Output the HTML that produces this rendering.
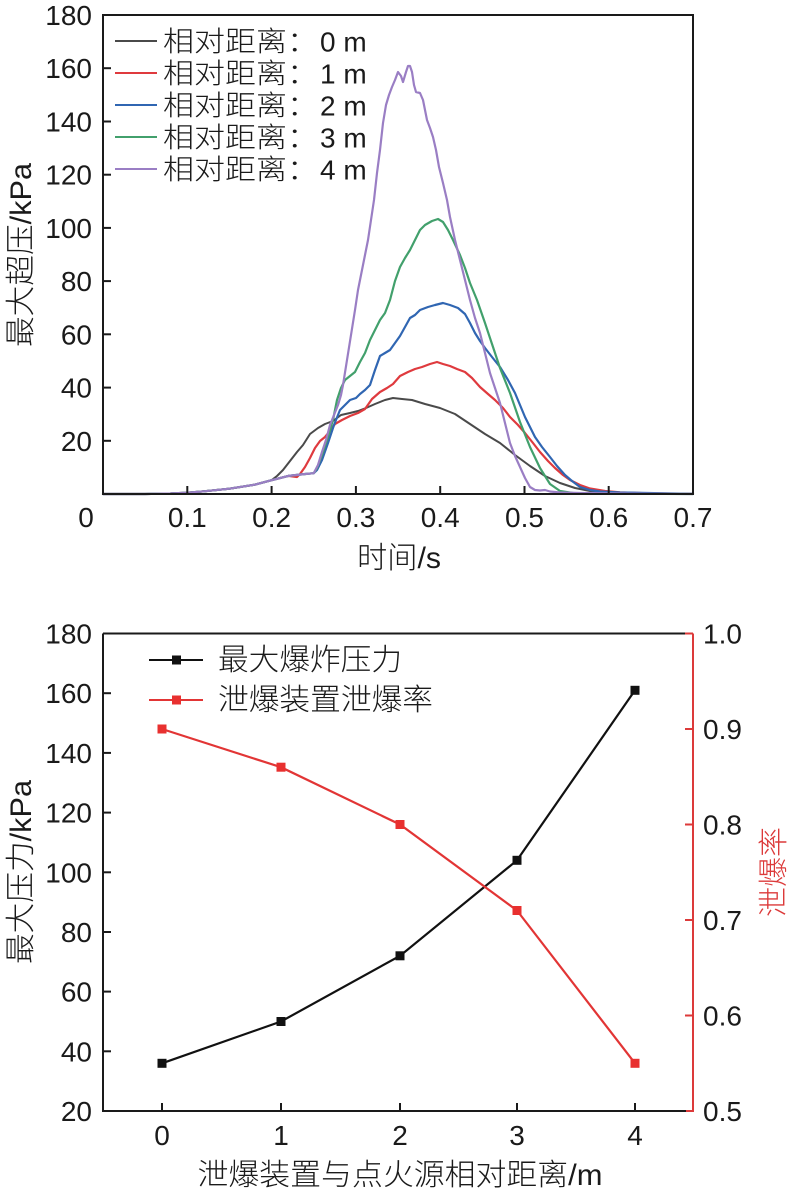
<!DOCTYPE html>
<html>
<head>
<meta charset="utf-8">
<style>
html,body{margin:0;padding:0;background:#fff;}
svg{display:block;}
text{font-family:"Liberation Sans","Noto Sans CJK SC",sans-serif;fill:#1a1a1a;}
.tk{font-size:28px;}
.cj{font-weight:300;}
</style>
</head>
<body>
<svg width="793" height="1196" viewBox="0 0 793 1196" xmlns="http://www.w3.org/2000/svg">
<rect width="793" height="1196" fill="#fff"/>

<!-- ================= TOP CHART ================= -->
<g fill="none" stroke-linejoin="round" stroke-linecap="round" stroke-width="2">
<polyline stroke="#4a4a4a" points="103,494 145,494 170.4,493.5 187.3,492.7 204.1,491.3 229.4,488.7 254.7,484.7 271.6,480.2 277,476 283,470 290,461 297,452 303,445 310,434 318,428 325,424 333,421 341,415 350,413 358,411 366,408 375,404 385,400 393,398 402,399 412,400 425,404 440,408 455,414 470,424 485,434 500,443 515,455 530,466 545,476 560,483 575,488 590,491 609,492.5 640,493.5 693,494"/>
<polyline stroke="#df3a3e" stroke-width="2.2" points="103,494 145,494 170.4,493.5 187.3,492.7 204.1,491.3 229.4,488.7 254.7,484.7 271.6,480.2 288.4,475.9 297,477 300,474 305,467 310,458 315,448 320,441 325,437 330,431 335,424 342,420 350,416 358,413 365,409 372,399 380,392 387,388 393,384 400,376 408,372 415,369 422,367 430,364 437,362 443,364 450,366 457,369 465,372 472,378 480,387 488,394 495,400 503,408 510,417 518,425 525,433 533,443 540,452 548,461 555,468 563,475 570,480 580,485 590,488.5 605,491 620,492.3 650,493.3 693,493.8"/>
<polyline stroke="#3066b2" stroke-width="2.2" points="103,494 145,494 170.4,493.5 187.3,492.7 204.1,491.3 229.4,488.7 254.7,484.7 271.6,480.2 288.4,475.9 305.3,474 313.7,473.2 317,470 322,460 328,443 334,425 340,410 345,405 350,400 356,398 360,394 365,390 370,385 375,370 380,356 385,353 390,350 395,343 400,336 405,327 410,318 415,315 420,310 428,307 435,305 443,303 450,305 458,308 465,314 470,323 475,333 480,341 485,348 492,357 500,367 508,380 515,393 520,405 525,417 530,427 535,437 542,447 550,457 557,466 565,475 572,481 580,487 590,490 600,491.5 620,492.5 693,493.8"/>
<polyline stroke="#42a06c" stroke-width="2.2" points="103,494 145,494 170.4,493.5 187.3,492.7 204.1,491.3 229.4,488.7 254.7,484.7 271.6,480.2 288.4,475.9 305.3,474 313.7,473.2 317,468 322,455 328,437 333,420 337,400 341,388 345,380 350,376 355,372 360,362 365,353 370,340 375,330 380,320 385,313 390,300 395,281 400,267 405,258 410,250 415,240 420,230 425,225 432,221 438,219 443,222 448,230 453,240 460,255 465,268 470,283 477,300 485,323 492,344 500,368 510,393 520,422 530,447 540,468 550,484 560,491 575,493.3 600,493.7 693,494"/>
<polyline stroke="#9a7ec4" stroke-width="2.2" points="103,494 145,494 170.4,493.5 187.3,492.7 204.1,491.3 229.4,488.7 254.7,484.7 271.6,480.2 288.4,475.9 305.3,474 313.7,473.2 318,465 322,452 326,440 330,425 334,415 338,405 341,395 343,385 347,360 351,335 355,310 358,290 362,270 365,255 368,240 371,220 374,200 377,173 380,150 383,123 386,105 389,95 392,87 395,80 398,72 401,76 403,82 406,72 408,66 410,66 412,72 414,85 416,92 420,93 423,100 427,120 430,128 433,137 436,150 439,167 443,183 447,200 450,217 455,240 460,260 465,280 470,300 475,318 480,333 485,353 490,373 495,388 500,403 505,423 510,443 515,456 520,467 525,478 530,487 535,490 540,490.5 545,490 550,491.5 560,492.5 580,493 620,493.5 693,494"/>
</g>

<rect x="103" y="15" width="590" height="479" fill="none" stroke="#1a1a1a" stroke-width="2"/>
<g stroke="#1a1a1a" stroke-width="2">
<line x1="103" y1="440.8" x2="111" y2="440.8"/>
<line x1="103" y1="387.6" x2="111" y2="387.6"/>
<line x1="103" y1="334.3" x2="111" y2="334.3"/>
<line x1="103" y1="281.1" x2="111" y2="281.1"/>
<line x1="103" y1="227.9" x2="111" y2="227.9"/>
<line x1="103" y1="174.7" x2="111" y2="174.7"/>
<line x1="103" y1="121.5" x2="111" y2="121.5"/>
<line x1="103" y1="68.2" x2="111" y2="68.2"/>
<line x1="187.3" y1="494" x2="187.3" y2="486"/>
<line x1="271.6" y1="494" x2="271.6" y2="486"/>
<line x1="355.9" y1="494" x2="355.9" y2="486"/>
<line x1="440.2" y1="494" x2="440.2" y2="486"/>
<line x1="524.5" y1="494" x2="524.5" y2="486"/>
<line x1="608.7" y1="494" x2="608.7" y2="486"/>
</g>
<g class="tk" text-anchor="end">
<text x="92" y="450.8">20</text>
<text x="92" y="397.6">40</text>
<text x="92" y="344.3">60</text>
<text x="92" y="291.1">80</text>
<text x="92" y="237.9">100</text>
<text x="92" y="184.7">120</text>
<text x="92" y="131.5">140</text>
<text x="92" y="78.2">160</text>
<text x="92" y="25">180</text>
</g>
<g class="tk" text-anchor="middle">
<text x="86" y="527">0</text>
<text x="187.3" y="527">0.1</text>
<text x="271.6" y="527">0.2</text>
<text x="355.9" y="527">0.3</text>
<text x="440.2" y="527">0.4</text>
<text x="524.5" y="527">0.5</text>
<text x="608.7" y="527">0.6</text>
<text x="693" y="527">0.7</text>
</g>
<text class="cj" x="399" y="568" font-size="30" text-anchor="middle" textLength="84" lengthAdjust="spacingAndGlyphs">时间/s</text>
<text class="cj" transform="translate(31,255) rotate(-90)" font-size="30" text-anchor="middle" textLength="184" lengthAdjust="spacingAndGlyphs">最大超压/kPa</text>

<g stroke-width="2">
<line x1="115" y1="41" x2="157" y2="41" stroke="#4a4a4a"/>
<line x1="115" y1="73" x2="157" y2="73" stroke="#df3a3e"/>
<line x1="115" y1="105" x2="157" y2="105" stroke="#3066b2"/>
<line x1="115" y1="137" x2="157" y2="137" stroke="#42a06c"/>
<line x1="115" y1="169" x2="157" y2="169" stroke="#9a7ec4"/>
</g>
<g font-size="28">
<text class="cj" x="163" y="51" textLength="155" lengthAdjust="spacingAndGlyphs">相对距离：</text><text x="320" y="51.5">0 m</text>
<text class="cj" x="163" y="83" textLength="155" lengthAdjust="spacingAndGlyphs">相对距离：</text><text x="320" y="83.5">1 m</text>
<text class="cj" x="163" y="115" textLength="155" lengthAdjust="spacingAndGlyphs">相对距离：</text><text x="320" y="115.5">2 m</text>
<text class="cj" x="163" y="147" textLength="155" lengthAdjust="spacingAndGlyphs">相对距离：</text><text x="320" y="147.5">3 m</text>
<text class="cj" x="163" y="179" textLength="155" lengthAdjust="spacingAndGlyphs">相对距离：</text><text x="320" y="179.5">4 m</text>
</g>

<!-- ================= BOTTOM CHART ================= -->
<g stroke-width="2" fill="none">
<line x1="103" y1="633.5" x2="693" y2="633.5" stroke="#1a1a1a"/>
<line x1="103" y1="633.5" x2="103" y2="1111" stroke="#1a1a1a"/>
<line x1="102" y1="1111" x2="686" y2="1111" stroke="#1a1a1a"/>
<line x1="686" y1="1111" x2="694" y2="1111" stroke="#dc3a3a"/>
<line x1="693" y1="633.5" x2="693" y2="1112" stroke="#dc3a3a"/>
</g>
<g stroke="#1a1a1a" stroke-width="2">
<line x1="103" y1="1051.3" x2="111" y2="1051.3"/>
<line x1="103" y1="991.6" x2="111" y2="991.6"/>
<line x1="103" y1="932" x2="111" y2="932"/>
<line x1="103" y1="872.3" x2="111" y2="872.3"/>
<line x1="103" y1="812.6" x2="111" y2="812.6"/>
<line x1="103" y1="752.9" x2="111" y2="752.9"/>
<line x1="103" y1="693.2" x2="111" y2="693.2"/>
<line x1="162" y1="1111" x2="162" y2="1103"/>
<line x1="281" y1="1111" x2="281" y2="1103"/>
<line x1="400" y1="1111" x2="400" y2="1103"/>
<line x1="517" y1="1111" x2="517" y2="1103"/>
<line x1="635" y1="1111" x2="635" y2="1103"/>
</g>
<g stroke="#dc3a3a" stroke-width="2">
<line x1="685" y1="1015.5" x2="693" y2="1015.5"/>
<line x1="685" y1="920" x2="693" y2="920"/>
<line x1="685" y1="824.5" x2="693" y2="824.5"/>
<line x1="685" y1="729" x2="693" y2="729"/>
<line x1="685" y1="633.5" x2="693" y2="633.5"/>
</g>
<g class="tk" text-anchor="end">
<text x="92" y="1121">20</text>
<text x="92" y="1061.3">40</text>
<text x="92" y="1001.6">60</text>
<text x="92" y="942">80</text>
<text x="92" y="882.3">100</text>
<text x="92" y="822.6">120</text>
<text x="92" y="762.9">140</text>
<text x="92" y="703.2">160</text>
<text x="92" y="643.5">180</text>
</g>
<g class="tk" style="fill:#dc3a3a">
<text x="703" y="1121">0.5</text>
<text x="703" y="1025.5">0.6</text>
<text x="703" y="930">0.7</text>
<text x="703" y="834.5">0.8</text>
<text x="703" y="739">0.9</text>
<text x="703" y="643.5">1.0</text>
</g>
<g class="tk" text-anchor="middle">
<text x="162" y="1145">0</text>
<text x="281" y="1145">1</text>
<text x="400" y="1145">2</text>
<text x="517" y="1145">3</text>
<text x="635" y="1145">4</text>
</g>
<text class="cj" x="400" y="1185" font-size="30" text-anchor="middle" textLength="405" lengthAdjust="spacingAndGlyphs">泄爆装置与点火源相对距离/m</text>
<text class="cj" transform="translate(31,872) rotate(-90)" font-size="30" text-anchor="middle" textLength="184" lengthAdjust="spacingAndGlyphs">最大压力/kPa</text>
<text class="cj" transform="translate(784,872) rotate(-90)" font-size="30" text-anchor="middle" textLength="90" lengthAdjust="spacingAndGlyphs" style="fill:#dc3a3a">泄爆率</text>

<polyline fill="none" stroke="#111" stroke-width="2.2" points="162,1063.3 281,1021.5 400,955.8 517,860.3 635,690.3"/>
<polyline fill="none" stroke="#e23535" stroke-width="2.2" points="162,729 281,767.2 400,824.5 517,910.5 635,1063.3"/>
<g fill="#111">
<rect x="157.5" y="1058.8" width="9" height="9"/>
<rect x="276.5" y="1017" width="9" height="9"/>
<rect x="395.5" y="951.3" width="9" height="9"/>
<rect x="512.5" y="855.8" width="9" height="9"/>
<rect x="630.5" y="685.8" width="9" height="9"/>
</g>
<g fill="#e8302f">
<rect x="157.5" y="724.5" width="9" height="9"/>
<rect x="276.5" y="762.7" width="9" height="9"/>
<rect x="395.5" y="820" width="9" height="9"/>
<rect x="512.5" y="906" width="9" height="9"/>
<rect x="630.5" y="1058.8" width="9" height="9"/>
</g>

<line x1="149" y1="660" x2="203" y2="660" stroke="#111" stroke-width="2"/>
<rect x="172" y="655.5" width="9" height="9" fill="#111"/>
<line x1="149" y1="700" x2="203" y2="700" stroke="#e23535" stroke-width="2"/>
<rect x="172" y="695.5" width="9" height="9" fill="#e8302f"/>
<text class="cj" x="218" y="670" font-size="30" textLength="184" lengthAdjust="spacingAndGlyphs">最大爆炸压力</text>
<text class="cj" x="218" y="710" font-size="30" textLength="215" lengthAdjust="spacingAndGlyphs">泄爆装置泄爆率</text>
</svg>
</body>
</html>
